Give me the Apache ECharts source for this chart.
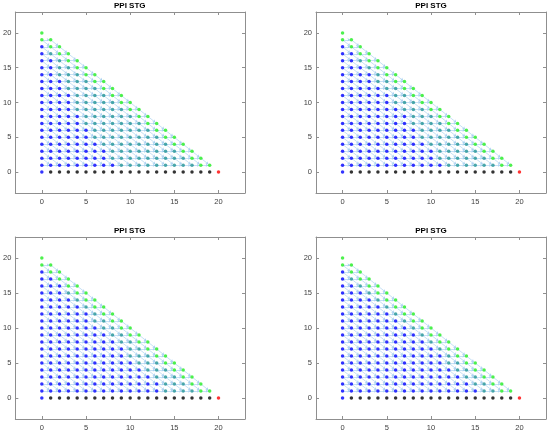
<!DOCTYPE html>
<html>
<head>
<meta charset="utf-8">
<script src="https://cdn.jsdelivr.net/npm/echarts@6/dist/echarts.min.js"></script>
<style>
html, body { margin: 0; padding: 0; background: #fff; }
#main { width: 550px; height: 433px; }
</style>
</head>
<body>
<div id="main"></div>
<script>
// 网格大小：所有满足 i + j <= 20 的整数点
var N = 20;
var tickValues = [0, 5, 10, 15, 20];
var panelTitles = ['PPI STG', 'PPI STG', 'PPI STG', 'PPI STG'];

// 每一行 (j = 1..19) 从哪个 x 开始变成青色的点
var tealStartTL = [9, 8, 8, 7, 6, 6, 5, 5, 4, 4, 4, 3, 3, 2, 2, 2, 1, 1, 0];
var tealStartTR = [12, 11, 11, 10, 9, 9, 8, 8, 7, 6, 6, 5, 4, 4, 3, 2, 2, 1, 0];
var tealStartBL = [14, 14, 13, 12, 11, 10, 10, 9, 8, 7, 6, 6, 5, 4, 3, 3, 2, 1, 0];
var tealStartBR = [16, 15, 14, 13, 12, 12, 11, 10, 9, 8, 7, 6, 5, 4, 3, 2, 1, 1, 0];
var tealStarts = [tealStartTL, tealStartTR, tealStartBL, tealStartBR];

// 四个子图的位置
var grids = [
    { left: 14.5, top: 12, width: 230.5, height: 181 },
    { left: 316, top: 12, width: 230, height: 181 },
    { left: 14.5, top: 237, width: 230.5, height: 182 },
    { left: 316, top: 237, width: 230, height: 182 }
];
var titleTops = [2, 2, 227, 227];

var boxColor = '#8f8f8f';
var arrowColor = '#a3cdef';
var colBlue = '#0000ff';
var colTeal = '#1f9296';
var colGreen = '#22ee22';

function pointColor(i, j, tealStart) {
    if (j === 0) {
        if (i === 0) return colBlue;
        if (i === N) return '#ff0000';
        return '#000000';
    }
    if (i + j >= N - 1) return colGreen;
    if (i >= tealStart[j - 1] && i > 0) return colTeal;
    return colBlue;
}

function makeX(g, pos) {
    return {
        type: 'value', gridIndex: g, position: pos, min: -3, max: 23,
        axisLine: { show: true, onZero: false, lineStyle: { color: boxColor, width: 1 } },
        axisTick: { show: true, inside: true, length: 3, customValues: tickValues, lineStyle: { color: boxColor } },
        axisLabel: { show: pos === 'bottom', customValues: tickValues, fontSize: 7.5, color: '#404040', margin: 5, fontFamily: 'Liberation Sans' },
        splitLine: { show: false }
    };
}
function makeY(g, pos) {
    return {
        type: 'value', gridIndex: g, position: pos, min: -3, max: 23,
        axisLine: { show: true, onZero: false, lineStyle: { color: boxColor, width: 1 } },
        axisTick: { show: true, inside: true, length: 3, customValues: tickValues, lineStyle: { color: boxColor } },
        axisLabel: { show: pos === 'left', customValues: tickValues, fontSize: 7.5, color: '#404040', margin: 4, fontFamily: 'Liberation Sans' },
        splitLine: { show: false }
    };
}

var option = {
    animation: false,
    backgroundColor: '#fff',
    title: [],
    grid: [],
    xAxis: [],
    yAxis: [],
    series: []
};

for (var g = 0; g < 4; g++) {
    var gr = grids[g];
    option.grid.push({ left: gr.left, top: gr.top, width: gr.width, height: gr.height, containLabel: false });
    option.title.push({
        text: panelTitles[g],
        left: gr.left + gr.width / 2,
        textAlign: 'center',
        top: titleTops[g],
        padding: 0,
        textStyle: { fontSize: 8, fontWeight: 'bold', color: '#000', fontFamily: 'Liberation Sans' }
    });
    option.xAxis.push(makeX(g, 'bottom'));
    option.xAxis.push(makeX(g, 'top'));
    option.yAxis.push(makeY(g, 'left'));
    option.yAxis.push(makeY(g, 'right'));

    // 箭头（水平和对角方向）
    var arrows = [];
    for (var j = 1; j <= N - 1; j++) {
        for (var i = 0; i + j <= N; i++) {
            if (i + 1 + j <= N) {
                arrows.push({ coords: [[i, j], [i + 0.85, j]] });
            }
            if (j >= 2) {
                arrows.push({ coords: [[i, j], [i + 0.85, j - 0.85]] });
            }
        }
    }
    option.series.push({
        type: 'lines',
        coordinateSystem: 'cartesian2d',
        xAxisIndex: g * 2,
        yAxisIndex: g * 2,
        silent: true,
        symbol: ['none', 'arrow'],
        symbolSize: 2.6,
        lineStyle: { color: arrowColor, width: 0.7, opacity: 0.9 },
        data: arrows
    });

    // 状态点
    var pts = [];
    for (var jj = 0; jj <= N; jj++) {
        for (var ii = 0; ii + jj <= N; ii++) {
            pts.push({ value: [ii, jj], itemStyle: { color: pointColor(ii, jj, tealStarts[g]) } });
        }
    }
    option.series.push({
        type: 'scatter',
        xAxisIndex: g * 2,
        yAxisIndex: g * 2,
        symbol: 'circle',
        symbolSize: 3.5,
        silent: true,
        data: pts
    });
}

var myChart = echarts.init(document.getElementById('main'));
myChart.setOption(option);
</script>
</body>
</html>
